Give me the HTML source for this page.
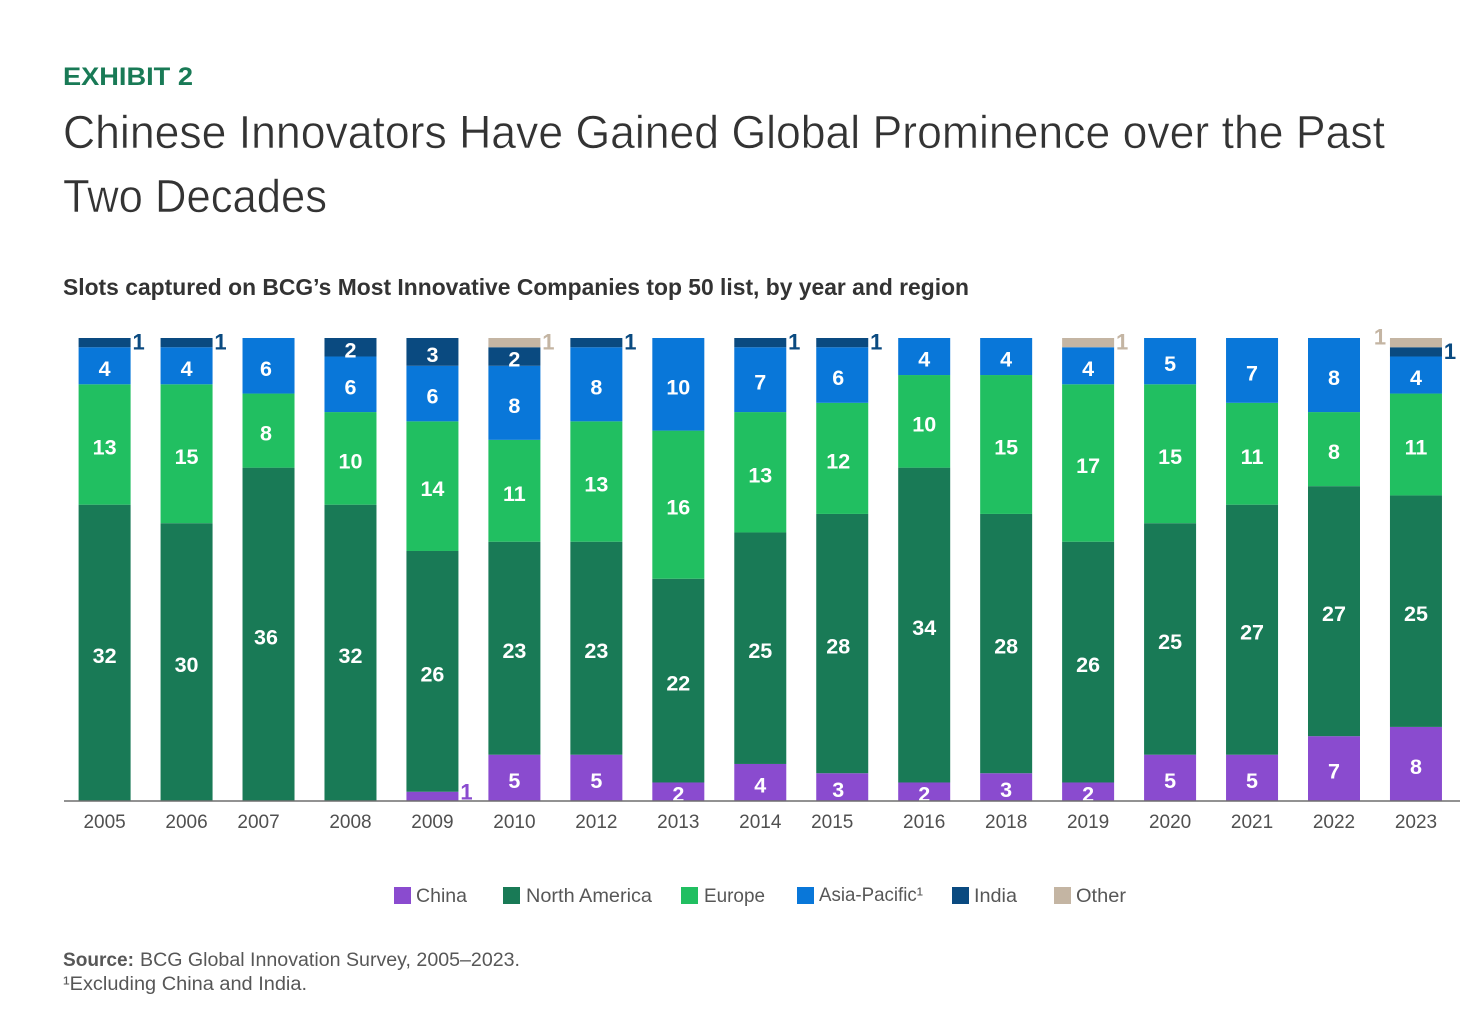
<!DOCTYPE html>
<html lang="en">
<head>
<meta charset="utf-8">
<title>Chinese Innovators Have Gained Global Prominence over the Past Two Decades</title>
<style>
html,body{margin:0;padding:0;background:#fff;}
svg{display:block;font-family:"Liberation Sans",sans-serif;}
.title{font-size:46.5px;fill:#333;stroke:#fff;stroke-width:.55px;}
.legend-text{font-size:19.5px;fill:#575757;}
.note{font-size:19px;fill:#575757;}
</style>
</head>
<body>
<svg id="chart" xmlns="http://www.w3.org/2000/svg" width="1484" height="1020" viewBox="0 0 1484 1020">
  <rect x="0" y="0" width="1484" height="1020" fill="#fff"/>
  <text x="63" y="85" font-size="25" font-weight="700" fill="#197a56" textLength="130" lengthAdjust="spacingAndGlyphs">EXHIBIT 2</text>
  <text class="title" x="63" y="148" textLength="1322" lengthAdjust="spacingAndGlyphs">Chinese Innovators Have Gained Global Prominence over the Past</text>
  <text class="title" x="63" y="212" textLength="264" lengthAdjust="spacingAndGlyphs">Two Decades</text>
  <text x="63" y="295" font-size="23" font-weight="700" fill="#333" textLength="906" lengthAdjust="spacingAndGlyphs">Slots captured on BCG’s Most Innovative Companies top 50 list, by year and region</text>

  <g id="bars"></g>
  <g id="x-axis"></g>

  <g>
    <g><rect x="394" y="887" width="17" height="17" fill="#8a4bcf"/><text class="legend-text" x="416" y="902" textLength="51" lengthAdjust="spacingAndGlyphs">China</text></g>
    <g><rect x="503" y="887" width="17" height="17" fill="#197a56"/><text class="legend-text" x="526" y="902" textLength="126" lengthAdjust="spacingAndGlyphs">North America</text></g>
    <g><rect x="681" y="887" width="17" height="17" fill="#21bf61"/><text class="legend-text" x="704" y="902" textLength="61" lengthAdjust="spacingAndGlyphs">Europe</text></g>
    <g><rect x="797" y="887" width="17" height="17" fill="#0977d9"/><text class="legend-text" x="819" y="901" textLength="104" lengthAdjust="spacingAndGlyphs">Asia-Pacific¹</text></g>
    <g><rect x="952" y="887" width="17" height="17" fill="#0a4a80"/><text class="legend-text" x="974" y="902" textLength="43" lengthAdjust="spacingAndGlyphs">India</text></g>
    <g><rect x="1054" y="887" width="17" height="17" fill="#c4b5a3"/><text class="legend-text" x="1076" y="902" textLength="50" lengthAdjust="spacingAndGlyphs">Other</text></g>
  </g>

  <text class="note" x="63" y="966" font-weight="700" textLength="71" lengthAdjust="spacingAndGlyphs">Source:</text>
  <text class="note" x="140" y="966" textLength="380" lengthAdjust="spacingAndGlyphs">BCG Global Innovation Survey, 2005–2023.</text>
  <text class="note" x="63" y="990" textLength="244" lengthAdjust="spacingAndGlyphs">¹Excluding China and India.</text>
</svg>
<script>
const years = [2005,2006,2007,2008,2009,2010,2012,2013,2014,2015,2016,2018,2019,2020,2021,2022,2023];
const china = [0,0,0,0,1,5,5,2,4,3,2,3,2,5,5,7,8];
const northAmerica = [32,30,36,32,26,23,23,22,25,28,34,28,26,25,27,27,25];
const europe = [13,15,8,10,14,11,13,16,13,12,10,15,17,15,11,8,11];
const asiaPacific = [4,4,6,6,6,8,8,10,7,6,4,4,4,5,7,8,4];
const india = [1,1,0,2,3,2,1,0,1,1,0,0,0,0,0,0,1];
const other = [0,0,0,0,0,1,0,0,0,0,0,0,1,0,0,0,1];

const seriesList = [
  {key:'china', values:china, color:'#8a4bcf'},
  {key:'north-america', values:northAmerica, color:'#197a56'},
  {key:'europe', values:europe, color:'#21bf61'},
  {key:'asia-pacific', values:asiaPacific, color:'#0977d9'},
  {key:'india', values:india, color:'#0a4a80'},
  {key:'other', values:other, color:'#c4b5a3'}
];

const NS = 'http://www.w3.org/2000/svg';
const plotLeft = 78.6, barStep = 81.96, barWidth = 52;
const baseline = 801, plotTop = 338, maxTotal = 50;
const xPos = i => plotLeft + i * barStep;
const yPos = v => baseline - v * (baseline - plotTop) / maxTotal;

const barsGroup = document.getElementById('bars');
const axisGroup = document.getElementById('x-axis');

function makeText(parent, x, y, str, size, weight, fill, anchor) {
  const t = document.createElementNS(NS, 'text');
  t.setAttribute('x', x);
  t.setAttribute('y', y);
  t.setAttribute('font-size', size);
  t.setAttribute('font-weight', weight);
  t.setAttribute('fill', fill);
  t.setAttribute('text-anchor', anchor);
  t.textContent = str;
  parent.appendChild(t);
  return t;
}

years.forEach((year, i) => {
  const g = document.createElementNS(NS, 'g');
  
  
  barsGroup.appendChild(g);
  // labels on these two bars sit left of centre in the original
  const labelShift = year === 2007 ? -2.5 : (year === 2015 ? -4 : 0);
  let cum = 0;
  seriesList.forEach(s => {
    const v = s.values[i];
    if (!v) return;
    const y0 = yPos(cum), y1 = yPos(cum + v);
    cum += v;
    const r = document.createElementNS(NS, 'rect');
    r.setAttribute('x', xPos(i));
    r.setAttribute('y', y1);
    r.setAttribute('width', barWidth);
    r.setAttribute('height', y0 - y1);
    r.setAttribute('fill', s.color);
    
    
    g.appendChild(r);

    const mid = (y0 + y1) / 2;
    let label;
    if (v === 1) {
      // small segments carry their value outside the bar
      const leftSide = year === 2023 && s.key === 'other';
      const lx = leftSide ? xPos(i) - 10 : xPos(i) + barWidth + 8;
      const rise = leftSide ? 6 : (s.key === 'china' ? 5 : 1);
      label = makeText(g, lx, mid + 8 - rise, String(v), 22, 700, s.color, 'middle');
    } else {
      label = makeText(g, xPos(i) + barWidth / 2 + labelShift, mid + 10, String(v), 21.5, 700, '#fff', 'middle');
    }
    
    
  });

  // two year labels sit left of their bar in the original
  const nudge = year === 2007 ? -10 : (year === 2015 ? -10 : 0);
  const tick = makeText(axisGroup, xPos(i) + barWidth / 2 + nudge, 828, String(year), 19, 400, '#505050', 'middle');
  
  
});

const axisLine = document.createElementNS(NS, 'line');
axisLine.setAttribute('x1', 64);
axisLine.setAttribute('x2', 1460);
axisLine.setAttribute('y1', baseline);
axisLine.setAttribute('y2', baseline);
axisLine.setAttribute('stroke', '#6e6e6e');
axisLine.setAttribute('stroke-width', 1.5);


axisGroup.appendChild(axisLine);
</script>
</body>
</html>
